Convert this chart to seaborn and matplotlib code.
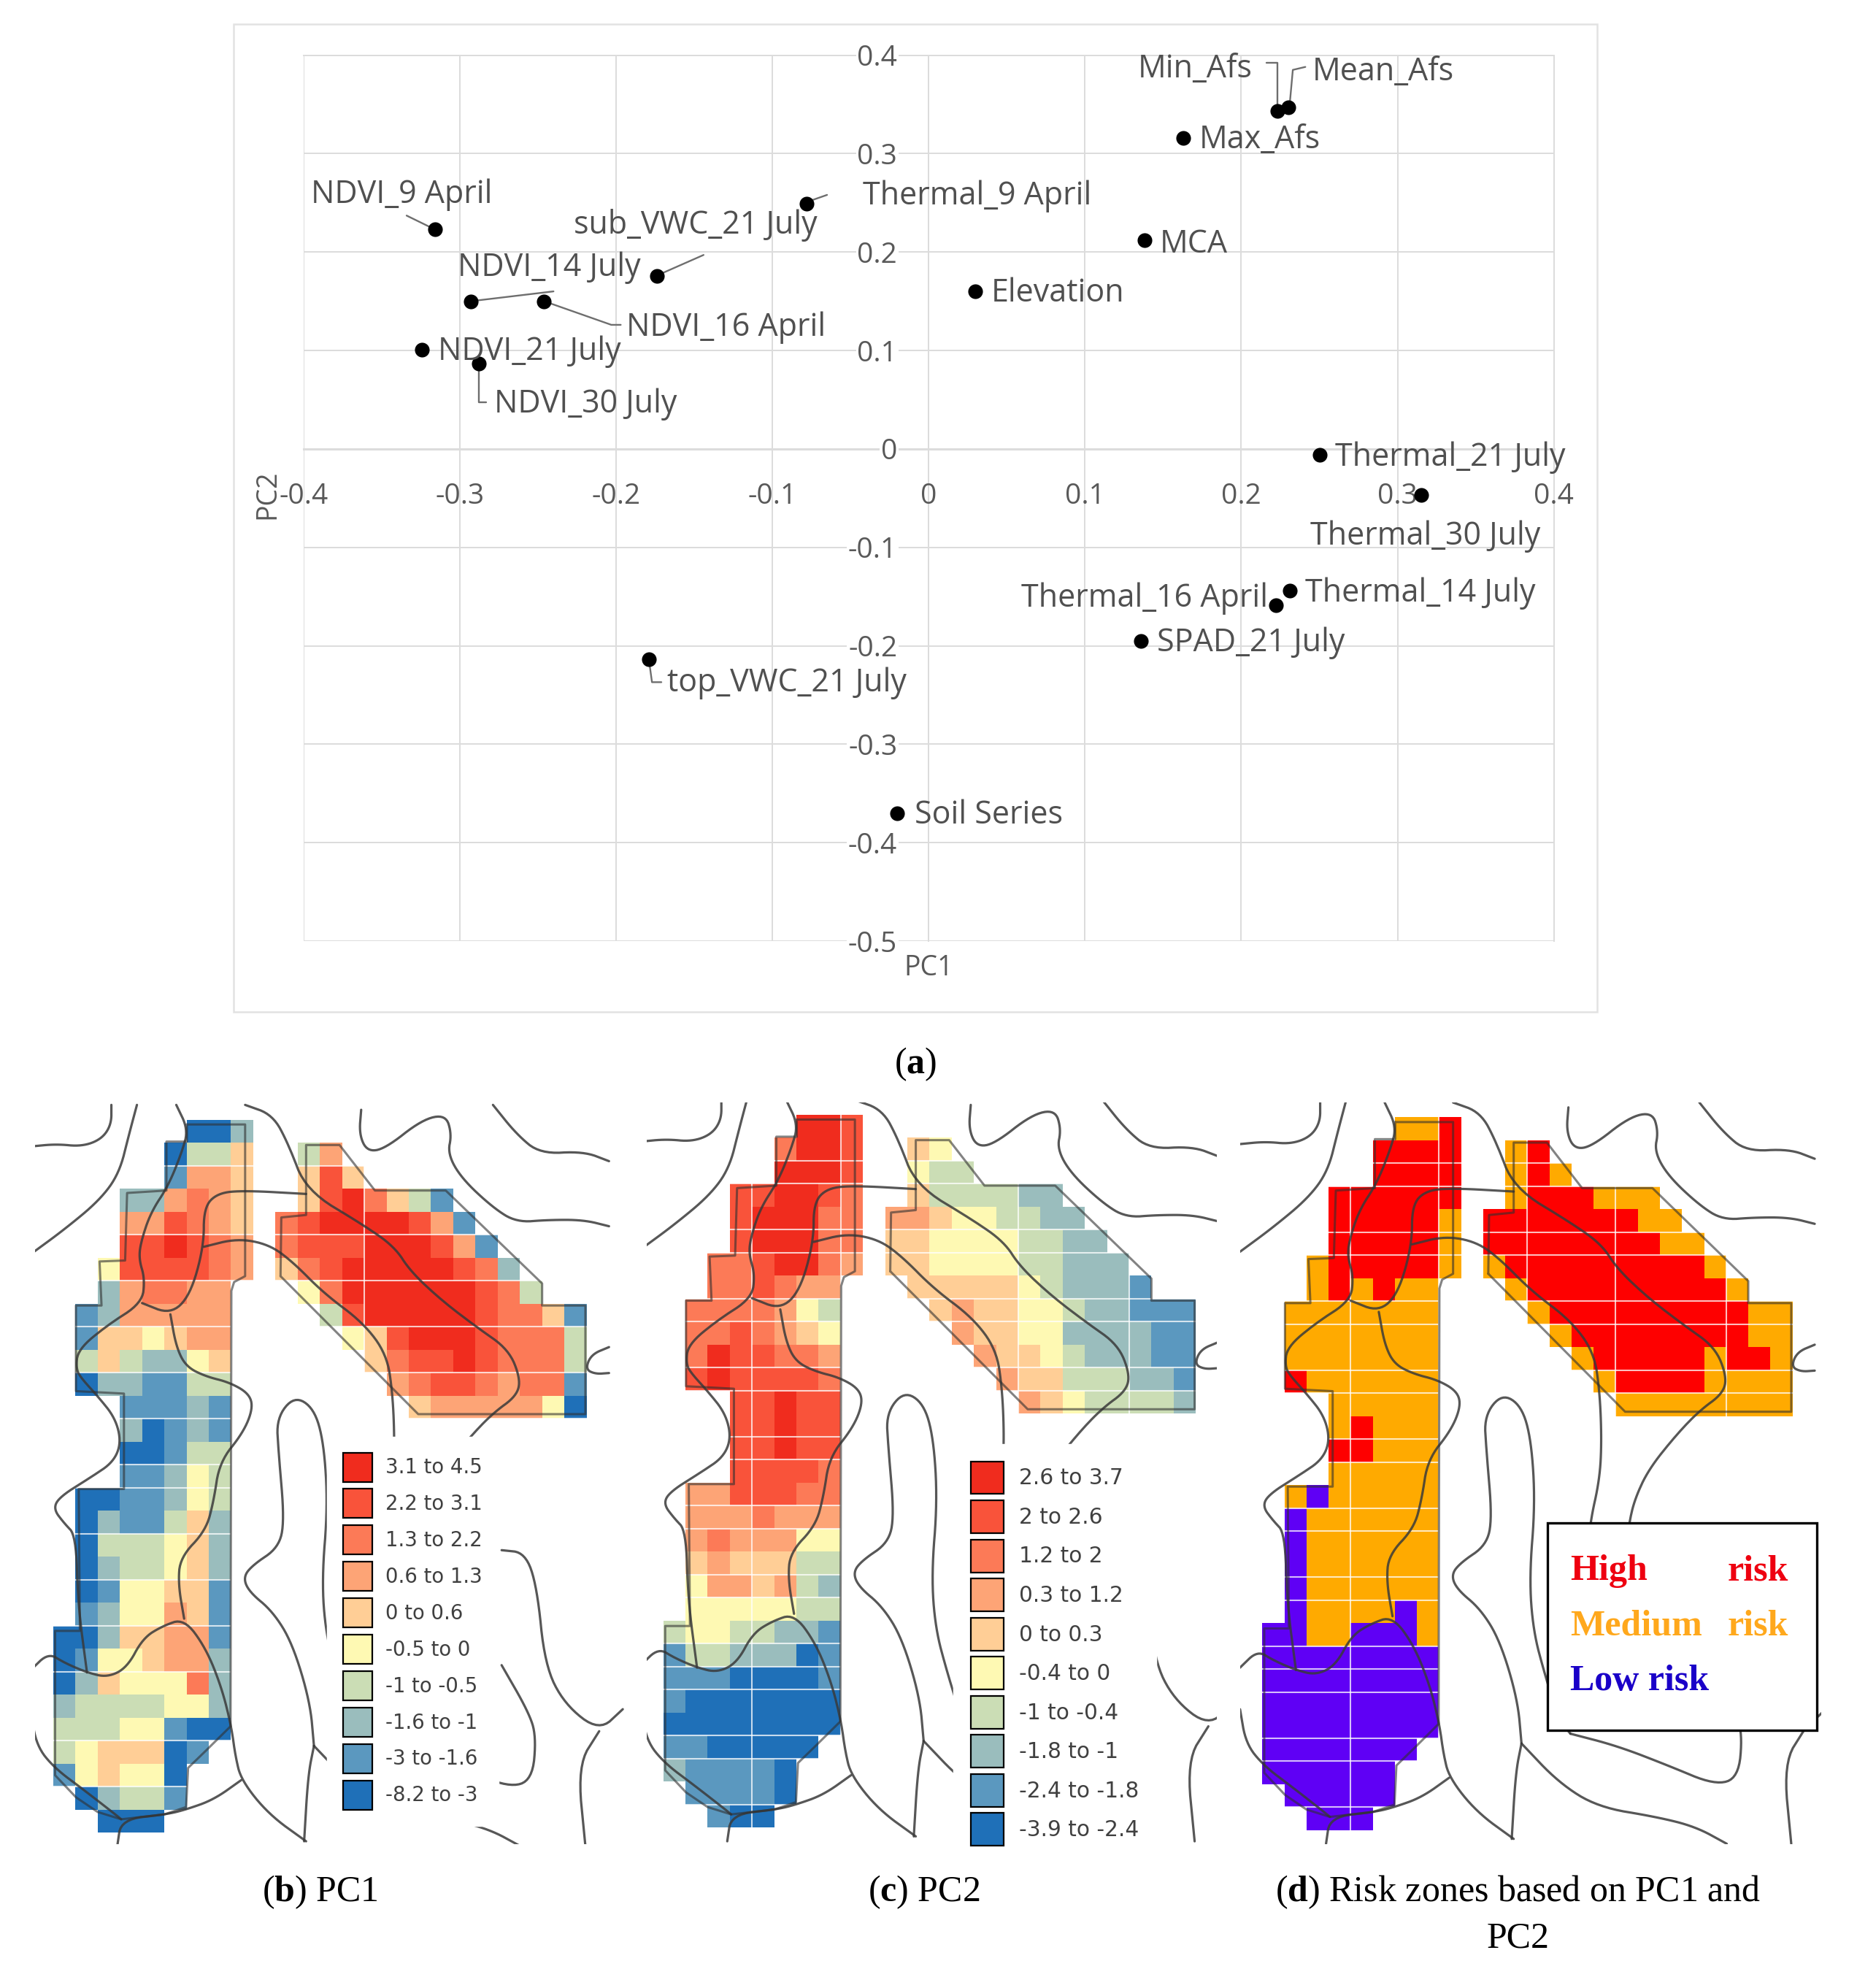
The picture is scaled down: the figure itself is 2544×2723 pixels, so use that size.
import numpy as np
import matplotlib
matplotlib.use("Agg")
import matplotlib.pyplot as plt
from matplotlib.colors import ListedColormap
from matplotlib.patches import Patch, Rectangle
import seaborn as sns

# =========================
# 1. SCATTER DATA (PCA loadings)
# =========================
names = ["Min_Afs", "Mean_Afs", "Max_Afs", "Thermal_9 April", "MCA", "Elevation", "NDVI_9 April",
         "sub_VWC_21 July", "NDVI_14 July", "NDVI_16 April", "NDVI_21 July", "NDVI_30 July",
         "Thermal_21 July", "Thermal_30 July", "Thermal_16 April", "Thermal_14 July",
         "SPAD_21 July", "top_VWC_21 July", "Soil Series"]
pc1 = [0.223, 0.230, 0.163, -0.078, 0.138, 0.030, -0.316, -0.174, -0.293, -0.246, -0.324, -0.288,
       0.250, 0.315, 0.222, 0.231, 0.136, -0.179, -0.020]
pc2 = [0.343, 0.347, 0.316, 0.249, 0.212, 0.160, 0.223, 0.176, 0.150, 0.150, 0.101, 0.087,
       -0.006, -0.047, -0.159, -0.144, -0.195, -0.214, -0.370]
label_x = [0.134, 0.2455, 0.173, -0.042, 0.148, 0.040, -0.395, -0.227, -0.3014, -0.1935, -0.314, -0.278,
           0.260, 0.244, 0.059, 0.241, 0.146, -0.1675, -0.009]
label_y = [0.386, 0.3825, 0.314, 0.257, 0.208, 0.158, 0.258, 0.2275, 0.184, 0.123, 0.099, 0.045,
           -0.009, -0.089, -0.152, -0.147, -0.197, -0.238, -0.372]
leaders = [
    [(0.216, 0.392), (0.223, 0.392), (0.223, 0.345)],
    [(0.241, 0.388), (0.233, 0.385), (0.231, 0.350)],
    [(-0.074, 0.253), (-0.065, 0.258)],
    [(-0.334, 0.237), (-0.316, 0.223)],
    [(-0.144, 0.197), (-0.174, 0.176)],
    [(-0.293, 0.150), (-0.240, 0.160)],
    [(-0.246, 0.150), (-0.203, 0.126), (-0.197, 0.126)],
    [(-0.288, 0.087), (-0.288, 0.047), (-0.283, 0.047)],
    [(-0.179, -0.214), (-0.177, -0.237), (-0.171, -0.237)],
]
x_ticks = [-0.4, -0.3, -0.2, -0.1, 0, 0.1, 0.2, 0.3, 0.4]
y_ticks = [-0.5, -0.4, -0.3, -0.2, -0.1, 0, 0.1, 0.2, 0.3, 0.4]

# =========================
# 2. MAP DATA (class of every cell, "." = outside the field)
# =========================
pc1_left = ["......002", ".....0335", ".....1665", "...226765", "...668765", "...889876", "..4888876",
            "..267766", ".1266666", ".1554566", ".3532245", ".0221133", "...11121", "...20121",
            "...00133", "...11243", ".0011243", ".0211352", ".0333452", ".0233452", ".0144551",
            ".1244651", "00255661", "01445662", "02544472", "23333442", "33344100", "3455501",
            "145440", ".02331", "..000"]
pc1_right = ["", ".36", ".585", ".5897531", "789999861", "7888999861", "57899999872",
             ".47999999873", "..389999987751", "...45899987773", "....5788987773",
             ".....678876771", "......56666640"]

pc2_left = ["......998", ".....7998", ".....9998", "...889987", "...899977", "...899977", "..7789976",
            "..778766", ".7777643", ".7787654", ".7988776", ".8988887", "...88988", "...88988",
            "...88988", "...88887", ".6688877", ".6667666", ".6766644", ".5655533", ".4665632",
            ".4444433", "34433221", "13322201", "11100001", "10000000", "00000000", "1100000",
            "211110", ".11110", "..100"]
pc2_right = ["", ".54", ".433", ".5333322", "665443322", "5544443322", "55444433222",
             ".55555432221", "..565544322111", "...65544222211", "....6554322211",
             ".....655333221", "......65433332"]

risk_left = ["......112", ".....2222", ".....2222", "...222222", "...222221", "...222221", "..1222221",
             "..121211", ".1111111", ".1111111", ".1111111", ".2111111", "...11111", "...12111",
             "...22111", "...11111", ".1011111", ".0111111", ".0111111", ".0111111", ".0111111",
             ".0111101", "00110001", "00000000", "00000000", "00000000", "00000000", "0000000",
             "000000", ".00000", "..000"]
risk_right = ["", ".12", ".121", ".1222111", "222222211", "2222222211", "12222222221",
              ".12222222221", "..122222222211", "...12222222211", "....1222221221",
              ".....122221111", "......11111111"]

pc1_classes = ["-8.2 to -3", "-3 to -1.6", "-1.6 to -1", "-1 to -0.5", "-0.5 to 0",
               "0 to 0.6", "0.6 to 1.3", "1.3 to 2.2", "2.2 to 3.1", "3.1 to 4.5"]
pc2_classes = ["-3.9 to -2.4", "-2.4 to -1.8", "-1.8 to -1", "-1 to -0.4", "-0.4 to 0",
               "0 to 0.3", "0.3 to 1.2", "1.2 to 2", "2 to 2.6", "2.6 to 3.7"]
class_colors = ["#1F70B8", "#5B98BF", "#9ABDBD", "#CBDDB5", "#FEF9B3",
                "#FFCE96", "#FDA476", "#FC7A57", "#F9533A", "#F02C1E"]
risk_colors = ["#5F00F5", "#FFAA00", "#FE0000"]

# soil boundary traces, in pixels of a crop of panel d
trace_x0, trace_y0, trace_w, trace_h = 92, 60, 56.5, 47
soil_lines = [
    [(35, 115), (100, 110), (165, 115), (215, 100), (240, 70), (240, 30)],
    [(35, 335), (120, 285), (210, 225), (260, 170), (285, 90), (305, 30)],
    [(405, 30), (435, 80), (420, 125), (385, 195), (340, 250), (315, 310), (310, 345), (325, 385), (318, 435),
     (230, 480), (155, 530), (150, 570), (165, 590), (205, 625), (250, 670), (265, 720), (245, 760), (190, 790),
     (110, 830), (92, 855), (120, 885), (150, 910), (155, 1050), (178, 1190)],
    [(35, 1185), (80, 1150), (120, 1170), (178, 1190), (230, 1200), (280, 1180), (320, 1120), (370, 1095),
     (425, 1080), (480, 1140), (520, 1220), (545, 1300), (555, 1360), (570, 1410), (640, 1480), (735, 1535)],
    [(318, 435), (390, 458), (440, 420), (475, 320), (475, 240), (510, 210), (580, 205), (735, 212)],
    [(390, 458), (405, 525), (430, 565), (480, 585), (540, 597), (590, 620), (600, 650), (575, 700), (515, 760),
     (500, 840), (480, 900), (415, 955), (410, 1010), (425, 1080)],
    [(475, 320), (560, 303), (640, 315), (700, 350), (780, 415), (880, 475), (940, 540), (955, 620), (960, 720),
     (955, 800), (930, 890), (925, 960)],
    [(580, 30), (650, 50), (690, 110), (735, 205), (880, 275), (960, 320), (1000, 370), (1080, 430), (1170, 485),
     (1250, 530), (1280, 590), (1270, 625), (1210, 660), (1150, 710), (1080, 780), (1045, 840), (1030, 890),
     (1020, 960)],
    [(875, 40), (870, 90), (890, 125), (935, 120), (1030, 60), (1090, 50), (1105, 90), (1095, 130), (1130, 180),
     (1210, 240), (1270, 270), (1350, 265), (1440, 265), (1505, 278)],
    [(1210, 30), (1270, 90), (1330, 130), (1440, 125), (1505, 145)],
    [(1505, 525), (1460, 540), (1445, 570), (1470, 580), (1505, 578)],
    [(755, 1340), (745, 1250), (700, 1130), (650, 1065), (590, 1025), (575, 995), (600, 970), (665, 935),
     (680, 880), (665, 740), (660, 670), (705, 625), (755, 650), (780, 720), (790, 850), (775, 1000), (785, 1110),
     (815, 1200), (850, 1290), (880, 1320)],
    [(755, 1340), (740, 1400), (730, 1535)],
    [(755, 1340), (850, 1420), (950, 1470), (1100, 1490), (1200, 1510), (1280, 1545)],
    [(880, 1320), (1000, 1345), (1130, 1385), (1250, 1425), (1310, 1410), (1320, 1320), (1300, 1270), (1232, 1175)],
    [(1232, 940), (1292, 945), (1322, 1015), (1342, 1175), (1392, 1255), (1480, 1310), (1540, 1265)],
    [(1480, 1310), (1425, 1380), (1445, 1545)],
    [(570, 1410), (500, 1450), (430, 1470), (380, 1480), (265, 1490), (255, 1545)],
    [(35, 1270), (50, 1340), (95, 1385), (170, 1430), (250, 1480), (265, 1490)],
]
field_lines = [
    [(432, 70), (580, 70), (580, 380), (552, 392), (545, 410), (543, 1300), (480, 1350), (435, 1385), (430, 1465),
     (375, 1480), (265, 1490), (205, 1475), (150, 1445), (97, 1400), (97, 1105), (160, 1105), (157, 815), (272, 815),
     (272, 620), (150, 615), (150, 440), (215, 440), (210, 350), (275, 348), (280, 210), (380, 205), (380, 105),
     (432, 105), (432, 70)],
    [(670, 380), (672, 260), (735, 255), (735, 112), (820, 112), (910, 205), (1090, 205), (1335, 395), (1335, 440),
     (1445, 440), (1445, 662), (1020, 662), (670, 380)],
]
white_rows = [2, 3, 5, 6, 8, 9, 11, 12, 14, 15, 17, 18, 20, 21, 23, 24, 25, 27, 28, 30]
white_rows_b = [2, 5, 7, 9, 11, 13, 15, 16, 18, 20, 22, 24, 27, 29]

# =========================
# 3. FIGURE AND HELPERS
# =========================
sns.set_theme(style="white")
plt.rcParams["font.family"] = ["Open Sans", "DejaVu Sans"]
plt.rcParams["mathtext.fontset"] = "custom"
plt.rcParams["mathtext.rm"] = "Liberation Serif"
plt.rcParams["mathtext.bf"] = "Liberation Serif:bold"

W, H = 2544, 2723
fig = plt.figure(figsize=(W / 100, H / 100), dpi=100, facecolor="white")


def fig_xy(x, y):
    return x / W, 1 - y / H


def rows_to_grid(left, right):
    rows = [a.ljust(9, ".") + "." + b.ljust(14, ".") for a, b in zip(left, right + [""] * 31)]
    return np.array([[np.nan if c == "." else int(c) for c in r] for r in rows])


def trace_to_cell(pts):
    pts = np.array(pts, dtype=float)
    return (pts[:, 0] - trace_x0) / trace_w, (pts[:, 1] - trace_y0) / trace_h


def round_corners(pts, n=3):
    # corner cutting, the traced lines are curved on the map
    pts = np.array(pts, dtype=float)
    for _ in range(n):
        q = 0.75 * pts[:-1] + 0.25 * pts[1:]
        r = 0.25 * pts[:-1] + 0.75 * pts[1:]
        mid = np.empty((2 * len(q), 2))
        mid[0::2] = q
        mid[1::2] = r
        pts = np.vstack([pts[0], mid, pts[-1]])
    return pts


def draw_map(grid, colors, origin, cell, xlim, ylim, rows, cols):
    left = origin[0] + xlim[0] * cell[0]
    right = origin[0] + xlim[1] * cell[0]
    top = origin[1] + ylim[1] * cell[1]
    bottom = origin[1] + ylim[0] * cell[1]
    ax = fig.add_axes([left / W, 1 - bottom / H, (right - left) / W, (bottom - top) / H])
    sns.heatmap(grid, cmap=ListedColormap(colors), vmin=-0.5, vmax=len(colors) - 0.5,
                mask=np.isnan(grid), cbar=False, square=False, ax=ax,
                xticklabels=False, yticklabels=False)
    ax.hlines(rows, 0, 24, color="white", lw=1.5, alpha=0.75, zorder=2)
    ax.vlines(cols, 0, 31, color="white", lw=1.5, alpha=0.75, zorder=2)
    for line in soil_lines:
        x, y = trace_to_cell(round_corners(line))
        ax.plot(x, y, color="#3A3A3A", lw=2.3, alpha=0.85, solid_capstyle="round", zorder=3)
    for line in field_lines:
        x, y = trace_to_cell(line)
        ax.plot(x, y, color="#303030", lw=2.2, alpha=0.6, zorder=3)
    ax.set_xlim(xlim)
    ax.set_ylim(ylim)
    ax.set_axis_off()
    return ax


def class_legend(ax, classes, anchor, size, hh, hl, spacing, tpad):
    handles = [Patch(facecolor=c, edgecolor="black", lw=1.6) for c in class_colors[::-1]]
    leg = ax.legend(handles, classes[::-1], loc="upper left", bbox_to_anchor=anchor,
                    bbox_transform=ax.transData, borderaxespad=0, borderpad=0.8,
                    handleheight=hh, handlelength=hl, labelspacing=spacing,
                    handletextpad=tpad, frameon=True, framealpha=1, facecolor="white",
                    edgecolor="white", fancybox=False, prop={"family": "DejaVu Sans", "size": size})
    for t in leg.get_texts():
        t.set_color("#404040")
    return leg


# =========================
# 4. PANEL (a): SCATTER
# =========================
fig.add_artist(Rectangle(fig_xy(320, 1386), 1868 / W, 1353 / H, transform=fig.transFigure,
                         facecolor="none", edgecolor="#E2E2E2", lw=1.8, zorder=-1))

ax_a = fig.add_axes([415.7 / W, 1 - 1289 / H, (2128.7 - 415.7) / W, (1289 - 75.5) / H])
ax_a.set_facecolor("none")
sns.scatterplot(x=pc1, y=pc2, color="black", s=210, edgecolor="black", linewidth=0, legend=False, ax=ax_a, zorder=4)
ax_a.set_xlim(-0.4, 0.4)
ax_a.set_ylim(-0.5, 0.4)
ax_a.set_xticks(x_ticks)
ax_a.set_yticks(y_ticks)
ax_a.set_xticklabels([f"{v:g}" for v in x_ticks])
ax_a.set_yticklabels([f"{v:g}" for v in y_ticks])
ax_a.grid(True, color="#DCDCDC", lw=1.4)
ax_a.set_axisbelow(True)
ax_a.spines["left"].set_position("zero")
ax_a.spines["bottom"].set_position("zero")
ax_a.spines["right"].set_visible(True)
ax_a.spines["top"].set_visible(True)
for s in ax_a.spines.values():
    s.set_color("#DCDCDC")
    s.set_linewidth(1.4)
    s.set_zorder(0)
ax_a.spines["bottom"].set_linewidth(2.2)
ax_a.tick_params(axis="x", length=0, pad=33, labelsize=28, labelcolor="#595959")
ax_a.tick_params(axis="y", length=0, pad=31, labelsize=28, labelcolor="#595959")
for lab in ax_a.get_yticklabels():
    lab.set_bbox(dict(facecolor="white", edgecolor="none", pad=1))

for pts in leaders:
    pts = np.array(pts)
    ax_a.plot(pts[:, 0], pts[:, 1], color="#6E6E6E", lw=1.7, zorder=3)
for name, tx, ty in zip(names, label_x, label_y):
    ax_a.text(tx, ty, name, fontsize=31, color="#505050", ha="left", va="center", clip_on=False, zorder=5)

fig.text(*fig_xy(1272, 1326), "PC1", fontsize=27, color="#595959", ha="center", va="center")
fig.text(*fig_xy(366, 677), "PC2", fontsize=27, color="#595959", ha="center", va="center", rotation=90)

# =========================
# 5. PANELS (b), (c), (d): MAPS
# =========================
ax_b = draw_map(rows_to_grid(pc1_left, pc1_right), class_colors, (72.8, 1533.5), (30.45, 31.5),
                (-0.83, 25.8), (31.5, -0.74), white_rows_b, [14])
class_legend(ax_b, pc1_classes, (12.31, 13.78), 19.8, 1.86, 1.45, 0.36, 0.69)

ax_c = draw_map(rows_to_grid(pc2_left, pc2_right), class_colors, (908.6, 1526.8), (30.4, 31.5),
                (-0.74, 24.96), (31.7, -0.53), white_rows, [4, 8, 16, 21])
class_legend(ax_c, pc2_classes, (13.08, 14.32), 21.3, 1.96, 1.54, 0.29, 0.71)

ax_d = draw_map(rows_to_grid(risk_left, risk_right), risk_colors, (1729.3, 1530.2), (30.26, 31.5),
                (-1.0, 25.3), (31.6, -0.64), white_rows, [4, 8, 12, 16, 21])

# risk legend box
box_x, box_y = trace_to_cell([(822, 890), (1510, 1313)])
ax_d.add_patch(Rectangle((box_x[0], box_y[0]), box_x[1] - box_x[0], box_y[1] - box_y[0], facecolor="white",
                         edgecolor="black", lw=2.4, clip_on=False, zorder=6))
risk_texts = [("High", 880, 988, "#EE0010"), ("risk", 1282, 988, "#EE0010"),
              ("Medium", 880, 1101, "#FFA81C"), ("risk", 1282, 1101, "#FFA81C"),
              ("Low risk", 880, 1213, "#1A00C8")]
for txt, tx, ty, col in risk_texts:
    cx, cy = trace_to_cell([(tx, ty)])
    ax_d.text(cx[0], cy[0], txt, color=col, fontsize=36, fontweight="bold", family="Liberation Serif",
              ha="left", va="center", clip_on=False, zorder=7)

# =========================
# 6. CAPTIONS
# =========================
captions = [(1254, 1458, r"($\mathbf{a}$)"), (438, 2592, r"($\mathbf{b}$) PC1"), (1266, 2592, r"($\mathbf{c}$) PC2"),
            (2080, 2592, r"($\mathbf{d}$) Risk zones based on PC1 and"), (2080, 2655, "PC2")]
for cx, cy, txt in captions:
    fig.text(*fig_xy(cx, cy), txt, fontsize=36, color="black", family="Liberation Serif", ha="center", va="center")

fig.savefig("out.png", dpi=100, facecolor="white")
